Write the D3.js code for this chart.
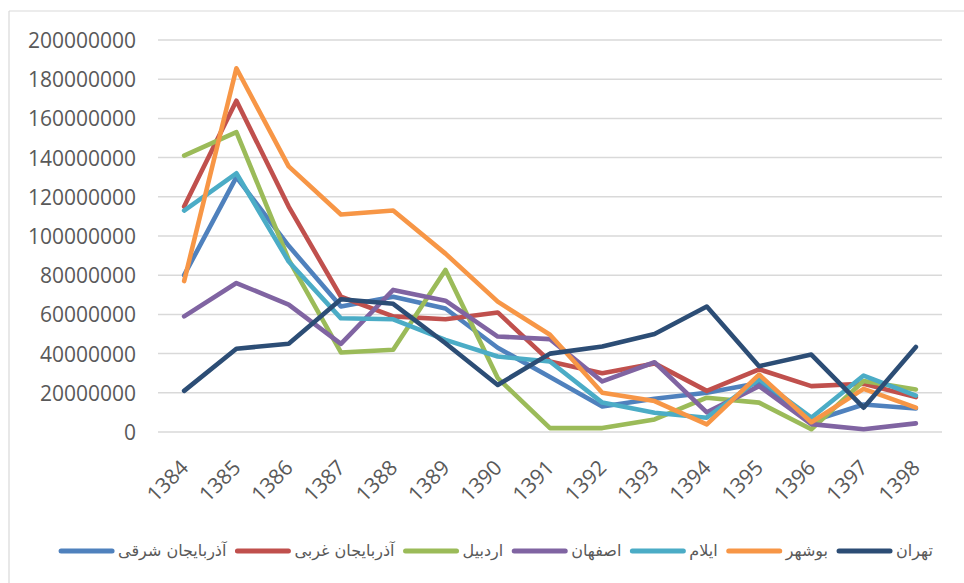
<!DOCTYPE html>
<head>
    <meta charset="utf-8">
    <script src="https://d3js.org/d3.v7.min.js"></script>
    <style>
      body { margin: 0; background: #fff; }
    </style>
</head>

<body>
<div id="chart"></div>

<script>
  var years = ["1384", "1385", "1386", "1387", "1388", "1389", "1390", "1391", "1392", "1393", "1394", "1395", "1396", "1397", "1398"];
  var seriesNames = ["آذربایجان شرقی", "آذربایجان غربی", "اردبیل", "اصفهان", "ایلام", "بوشهر", "تهران"];
  var seriesColors = ["#4F81BD", "#C0504D", "#9BBB59", "#8064A2", "#4BACC6", "#F79646", "#2C4D75"];

  // values in millions
  var azarbaijanSharghi = [80, 130, 95, 64, 69, 63, 43, 28, 13, 17, 20, 25, 5.5, 14, 12];
  var azarbaijanGharbi = [115, 169, 115, 69, 59, 57.5, 61, 36, 30, 35, 21, 32, 23.4, 24.6, 17.8];
  var ardabil = [141, 153, 88, 40.6, 42, 82.7, 27.5, 2, 2, 6.4, 17.5, 15, 1.4, 26, 21.7];
  var isfahan = [59, 76, 65, 45, 72.5, 67, 48.7, 47.4, 25.8, 35.6, 10, 23.4, 4, 1.4, 4.4];
  var ilam = [113, 132, 87, 58, 57.5, 47, 38.5, 36, 15, 9.8, 7.3, 27, 7.3, 28.8, 18.6];
  var bushehr = [77, 185.6, 135.5, 111, 113, 91, 66.5, 49.6, 20, 15.8, 3.9, 29.3, 5, 22, 12.4];
  var tehran = [21, 42.5, 45, 67.7, 65.4, 45.3, 24, 40, 43.6, 50, 64, 33.6, 39.5, 12.4, 43.4];

  var yTicks = [0, 20000000, 40000000, 60000000, 80000000, 100000000, 120000000, 140000000, 160000000, 180000000, 200000000];

  var allSeries = [azarbaijanSharghi, azarbaijanGharbi, ardabil, isfahan, ilam, bushehr, tehran];

  var width = 964;
  var height = 583;
  var svg = d3.select("#chart").append("svg")
      .attr("width", width)
      .attr("height", height);

  // chart border (top and left visible)
  svg.append("line").attr("x1", 9).attr("y1", 11).attr("x2", width).attr("y2", 11)
      .style("stroke", "#d9d9d9").style("stroke-width", 1.2);
  svg.append("line").attr("x1", 9).attr("y1", 11).attr("x2", 9).attr("y2", height)
      .style("stroke", "#d9d9d9").style("stroke-width", 1.2);

  var x = d3.scalePoint().domain(years).range([158, 942]).padding(0.5);
  var y = d3.scaleLinear().domain([0, 200000000]).range([432, 40]);

  // gridlines
  svg.append("g").selectAll("line")
    .data(yTicks)
    .enter().append("line")
      .attr("x1", 158).attr("x2", 942)
      .attr("y1", function(d) { return y(d); })
      .attr("y2", function(d) { return y(d); })
      .style("stroke", "#d9d9d9")
      .style("stroke-width", 1.5);

  // y axis labels
  var yAxis = d3.axisLeft(y).tickValues(yTicks).tickSize(0).tickPadding(0)
      .tickFormat(function(d) { return String(d); });
  var gy = svg.append("g").attr("transform", "translate(136,0)").call(yAxis);
  gy.select(".domain").remove();
  gy.selectAll("text")
      .style("font-family", "'Open Sans', sans-serif")
      .style("font-size", "21px")
      .attr("fill", "#595959")
      .attr("dy", "0.36em");

  // x axis labels
  var xAxis = d3.axisBottom(x).tickSize(0).tickPadding(0);
  var gx = svg.append("g").attr("transform", "translate(0,432)").call(xAxis);
  gx.select(".domain").remove();
  gx.selectAll("text")
      .style("font-family", "'Open Sans', sans-serif")
      .style("font-size", "21px")
      .attr("fill", "#595959")
      .attr("text-anchor", "end")
      .attr("dy", 0)
      .attr("y", 0)
      .attr("transform", "translate(5,37) rotate(-45)");

  // series lines
  var line = d3.line()
      .x(function(d, i) { return x(years[i]); })
      .y(function(d) { return y(d * 1000000); });

  svg.append("g").selectAll("path")
    .data(allSeries)
    .enter().append("path")
      .attr("d", line)
      .style("fill", "none")
      .style("stroke", function(d, i) { return seriesColors[i]; })
      .style("stroke-width", 4.6)
      .style("stroke-linejoin", "round")
      .style("stroke-linecap", "round");

  // legend
  var lineLen = 55, gapAfterLine = 4, gapAfterText = 9, legendY = 551;
  var legend = svg.append("g");
  var items = legend.selectAll("g")
    .data(seriesNames)
    .enter().append("g");

  items.append("line")
      .attr("x1", 2).attr("x2", lineLen - 2)
      .attr("y1", 0).attr("y2", 0)
      .style("stroke", function(d, i) { return seriesColors[i]; })
      .style("stroke-width", 5)
      .style("stroke-linecap", "round");

  items.append("text")
      .attr("x", lineLen + gapAfterLine)
      .attr("y", 0)
      .attr("dy", "0.32em")
      .style("font-family", "'DejaVu Sans', sans-serif")
      .style("font-size", "16px")
      .attr("fill", "#595959")
      .text(function(d) { return d; });

  var offsets = [], total = 0;
  items.each(function() {
    var w = d3.select(this).select("text").node().getComputedTextLength();
    offsets.push(total);
    total += lineLen + gapAfterLine + w + gapAfterText;
  });
  total -= gapAfterText;
  var startX = 496 - total / 2;
  items.attr("transform", function(d, i) { return "translate(" + (startX + offsets[i]) + "," + legendY + ")"; });
</script>
</body>
</html>
